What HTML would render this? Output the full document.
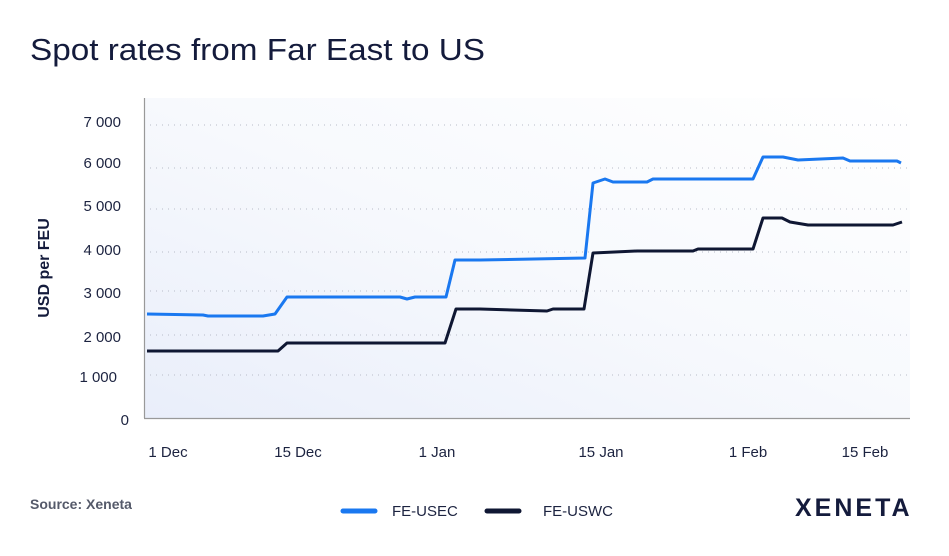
<!DOCTYPE html>
<html><head><style>
body{margin:0;background:#fff;}
svg text{font-family:"Liberation Sans",sans-serif;}
</style></head><body>
<svg width="949" height="551" viewBox="0 0 949 551" xmlns="http://www.w3.org/2000/svg">
<defs>
<linearGradient id="bg" x1="0" y1="1" x2="1" y2="0">
<stop offset="0" stop-color="#e9eefa"/><stop offset="0.5" stop-color="#f7f9fd"/><stop offset="1" stop-color="#ffffff"/>
</linearGradient>
</defs>
<rect width="949" height="551" fill="#fff"/>
<rect x="144" y="98" width="766" height="320" fill="url(#bg)"/>
<text x="30" y="60" font-size="31" fill="#141b3c" textLength="455" lengthAdjust="spacingAndGlyphs">Spot rates from Far East to US</text>
<g stroke="#b8bcc8" stroke-width="1" stroke-dasharray="1,5">
<line x1="150" x2="908" y1="125" y2="125"/>
<line x1="150" x2="908" y1="168" y2="168"/>
<line x1="150" x2="908" y1="209" y2="209"/>
<line x1="150" x2="908" y1="252" y2="252"/>
<line x1="150" x2="908" y1="291" y2="291"/>
<line x1="150" x2="908" y1="335" y2="335"/>
<line x1="150" x2="908" y1="375" y2="375"/>
</g>
<line x1="144.5" y1="98" x2="144.5" y2="418" stroke="#999" stroke-width="1.2"/>
<line x1="144" y1="418.5" x2="910" y2="418.5" stroke="#999" stroke-width="1.2"/>
<g font-size="15" fill="#1c2340" text-anchor="end">
<text x="121" y="127">7 000</text>
<text x="121" y="168">6 000</text>
<text x="121" y="211">5 000</text>
<text x="121" y="255">4 000</text>
<text x="121" y="298">3 000</text>
<text x="121" y="342">2 000</text>
<text x="117" y="382">1 000</text>
<text x="129" y="425">0</text>
</g>
<text transform="translate(49,268) rotate(-90)" font-size="16" fill="#141b3c" text-anchor="middle" font-weight="bold">USD per FEU</text>
<g font-size="15" fill="#1c2340" text-anchor="middle">
<text x="168" y="457">1 Dec</text>
<text x="298" y="457">15 Dec</text>
<text x="437" y="457">1 Jan</text>
<text x="601" y="457">15 Jan</text>
<text x="748" y="457">1 Feb</text>
<text x="865" y="457">15 Feb</text>
</g>
<polyline fill="none" stroke="#1a78f0" stroke-width="3" stroke-linejoin="round" points="147,314 203,315 208,316 263,316 275,314 287,297 400,297 407,299 415,297 446,297 455,260 480,260 585,258 593,183 605,179 613,182 647,182 653,179 753,179 763,157 783,157 798,160 843,158 850,161 897,161 901,163"/>
<polyline fill="none" stroke="#0f1733" stroke-width="3" stroke-linejoin="round" points="147,351 278,351 287,343 445,343 456,309 480,309 547,311 553,309 584,309 593,253 637,251 693,251 698,249 753,249 763,218 782,218 790,222 808,225 893,225 902,222"/>
<text x="30" y="509" font-size="14" font-weight="bold" fill="#555a6a">Source: Xeneta</text>
<line x1="343" y1="511" x2="375" y2="511" stroke="#1a78f0" stroke-width="5" stroke-linecap="round"/>
<text x="392" y="516" font-size="15" fill="#1c2340">FE-USEC</text>
<line x1="487" y1="511" x2="519" y2="511" stroke="#0f1733" stroke-width="5" stroke-linecap="round"/>
<text x="543" y="516" font-size="15" fill="#1c2340">FE-USWC</text>
<text x="795" y="516" font-size="25" font-weight="bold" fill="#141b3c" letter-spacing="3">XENETA</text>
</svg>
</body></html>
